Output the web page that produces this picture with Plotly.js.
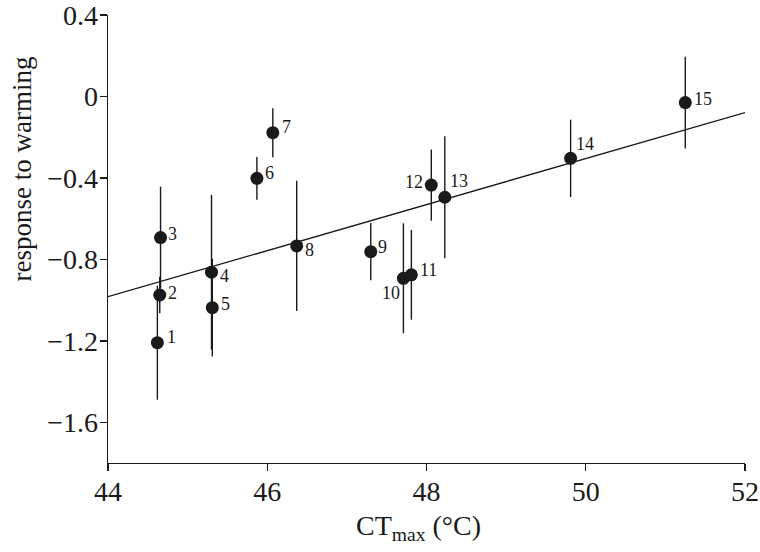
<!DOCTYPE html>
<html>
<head>
<meta charset="utf-8">
<script src="https://cdn.plot.ly/plotly-3.0.1.min.js"></script>
<style>body{margin:0;background:#fff}#plot{width:760px;height:552px}</style>
</head>
<body>
<div id="plot"></div>
<script>
// Data
const labels = ["1","2","3","4","5","6","7","8","9","10","11","12","13","14","15"];
const ctmax = [44.62, 44.65, 44.66, 45.30, 45.31, 45.87, 46.07, 46.37, 47.30, 47.71, 47.81, 48.06, 48.23, 49.81, 51.25];
const response = [-1.209, -0.975, -0.693, -0.863, -1.037, -0.402, -0.178, -0.734, -0.762, -0.893, -0.876, -0.435, -0.495, -0.304, -0.030];
const errors = [0.28, 0.09, 0.25, 0.38, 0.24, 0.105, 0.12, 0.32, 0.14, 0.27, 0.22, 0.175, 0.30, 0.19, 0.225];
const xTicks = [44, 46, 48, 50, 52];
const yTicks = [-1.6, -1.2, -0.8, -0.4, 0, 0.4];
const yTickText = ["\u22121.6", "\u22121.2", "\u22120.8", "\u22120.4", "0", "0.4"];

// Label offsets in pixels (style)
const labelDX = [14, 13, 12, 13, 13, 13, 14, 13, 12, -12, 17, -17, 14, 14, 18];
const labelDY = [-6, -2, -4, 4, -4, -5, -6, 4, -5, 15, -5, -3, -16, -14, -4];

// least-squares fit
const n = ctmax.length;
const mx = ctmax.reduce((a, b) => a + b, 0) / n;
const my = response.reduce((a, b) => a + b, 0) / n;
let sxy = 0, sxx = 0;
for (let i = 0; i < n; i++) { sxy += (ctmax[i] - mx) * (response[i] - my); sxx += (ctmax[i] - mx) ** 2; }
const slope = sxy / sxx, icpt = my - slope * mx;
const xr = [44, 52];
const fitX = xr.slice();
const fitY = fitX.map(x => icpt + slope * x);

const FONT = "Liberation Serif, Times New Roman, serif";
const INK = "#1a1a1a";

const traces = [
  {x: fitX, y: fitY, mode: "lines", line: {color: INK, width: 1.4}, hoverinfo: "skip", showlegend: false},
  {x: ctmax, y: response, mode: "markers", marker: {color: INK, size: 13},
   error_y: {type: "data", array: errors, visible: true, color: INK, thickness: 1.4, width: 0},
   showlegend: false}
];

const annotations = labels.map((t, i) => ({
  x: ctmax[i], y: response[i], xref: "x", yref: "y", text: t, showarrow: false,
  xanchor: "center", yanchor: "middle", xshift: labelDX[i], yshift: -labelDY[i],
  font: {family: FONT, size: 18, color: INK}
}));
annotations.push({
  xref: "paper", yref: "paper", x: -0.135, y: 0.655, text: "response to warming",
  textangle: -90, showarrow: false, xanchor: "center", yanchor: "middle",
  font: {family: FONT, size: 27, color: INK}
});
annotations.push({
  xref: "paper", yref: "paper", x: 0.487, y: -0.145, text: "CT<sub>max</sub> (\u00b0C)",
  showarrow: false, xanchor: "center", yanchor: "middle",
  font: {family: FONT, size: 28, color: INK}
});

const layout = {
  width: 760, height: 552,
  margin: {l: 108, r: 15, t: 15, b: 89},
  paper_bgcolor: "#fff", plot_bgcolor: "#fff",
  font: {family: FONT, color: INK},
  xaxis: {range: xr, tickvals: xTicks, showgrid: false, zeroline: false, showline: true,
          linecolor: INK, linewidth: 1.4, ticks: "outside", ticklen: 7, tickwidth: 1.4, tickcolor: INK,
          tickfont: {family: FONT, size: 28, color: INK}, ticklabelstandoff: -4, ticklabeloverflow: "allow"},
  yaxis: {range: [-1.8, 0.4], tickvals: yTicks, ticktext: yTickText, showgrid: false, zeroline: false,
          showline: true, linecolor: INK, linewidth: 1.4, ticks: "outside", ticklen: 7, tickwidth: 1.4,
          tickcolor: INK, tickfont: {family: FONT, size: 28, color: INK}, ticklabelstandoff: -4,
          ticklabeloverflow: "allow"},
  annotations: annotations,
  showlegend: false
};

Plotly.newPlot("plot", traces, layout, {staticPlot: true});
</script>
</body>
</html>
